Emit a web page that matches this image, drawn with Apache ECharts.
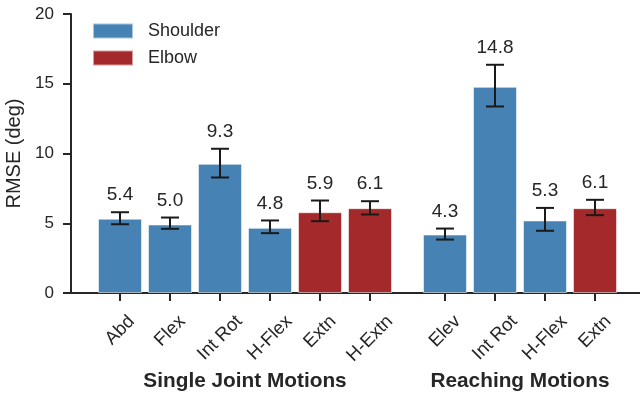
<!DOCTYPE html>
<html>
<head>
<meta charset="utf-8">
<script src="https://cdn.jsdelivr.net/npm/echarts@6/dist/echarts.min.js"></script>
<style>html,body{margin:0;padding:0;background:#fff;}#c{width:640px;height:394px;}</style>
</head>
<body>
<div id="c"></div>
<script>
// ---- data ----
const categories = ['Abd','Flex','Int Rot','H-Flex','Extn','H-Extn','Elev','Int Rot','H-Flex','Extn'];
const positions  = [0, 1, 2, 3, 4, 5, 6.5, 7.5, 8.5, 9.5];
const joints     = ['Shoulder','Shoulder','Shoulder','Shoulder','Elbow','Elbow','Shoulder','Shoulder','Shoulder','Elbow'];
const means      = [5.33, 4.91, 9.26, 4.67, 5.79, 6.08, 4.19, 14.78, 5.20, 6.08];
const errLow     = [4.93, 4.60, 8.28, 4.29, 5.15, 5.63, 3.83, 13.37, 4.46, 5.58];
const errHigh    = [5.79, 5.41, 10.34, 5.20, 6.63, 6.58, 4.62, 16.36, 6.10, 6.68];
const valueLabels= ['5.4','5.0','9.3','4.8','5.9','6.1','4.3','14.8','5.3','6.1'];
const groups     = [{name:'Single Joint Motions', from:0, to:5}, {name:'Reaching Motions', from:6.5, to:9.5}];
const yTicks     = [0, 5, 10, 15, 20];

const FONT = '"Liberation Sans", Arial, sans-serif';
const TXT = '#262626';
const colors = {Shoulder:'#4682b4', Elbow:'#a4292b'};
const CAT_FS = 18.5;

const measure = (() => {
  const ctx = document.createElement('canvas').getContext('2d');
  return (t, size) => { ctx.font = size + 'px "Liberation Sans", Arial'; return ctx.measureText(t).width; };
})();

function barData(j){
  return positions.map((p,i)=> joints[i]===j ? [p, means[i]] : null).filter(d=>d);
}

const chart = echarts.init(document.getElementById('c'));
const option = {
  animation:false,
  textStyle:{fontFamily:FONT, color:TXT},
  grid:{left:71, right:0, top:14, bottom:101, containLabel:false, outerBoundsMode:'none'},
  legend:{
    orient:'vertical', left:87, top:17, itemWidth:40, itemHeight:15, itemGap:9,
    icon:'rect', data:['Shoulder','Elbow'],
    textStyle:{fontSize:18, color:TXT, fontFamily:FONT, padding:[0,0,0,10]}
  },
  xAxis:{
    type:'value', min:-0.98, max:10.4,
    axisLine:{show:true, onZero:false, lineStyle:{color:TXT, width:2}},
    axisTick:{show:true, length:8, lineStyle:{color:TXT, width:2}, customValues:positions},
    axisLabel:{show:false},
    splitLine:{show:false}
  },
  yAxis:{
    type:'value', min:0, max:20, interval:5,
    name:'RMSE (deg)', nameLocation:'middle', nameGap:42,
    nameTextStyle:{fontSize:20, color:TXT, fontFamily:FONT},
    axisLine:{show:true, onZero:false, lineStyle:{color:TXT, width:2}},
    axisTick:{show:true, length:8, lineStyle:{color:TXT, width:2}},
    axisLabel:{fontSize:17, color:TXT, margin:17, fontFamily:FONT, customValues:yTicks},
    splitLine:{show:false}
  },
  series:[
    {name:'Shoulder', type:'bar', data:barData('Shoulder'), barWidth:44, barGap:'-100%',
     itemStyle:{color:colors.Shoulder, borderColor:'rgba(255,255,255,0.55)', borderWidth:1}},
    {name:'Elbow', type:'bar', data:barData('Elbow'), barWidth:44, barGap:'-100%',
     itemStyle:{color:colors.Elbow, borderColor:'rgba(255,255,255,0.55)', borderWidth:1}},
    {name:'err', type:'custom', z:5, clip:false,
     data: positions.map((p,i)=>[p, errLow[i], errHigh[i], i]),
     renderItem:(params, api)=>{
       const x = api.value(0), lo = api.value(1), hi = api.value(2), i = api.value(3);
       const a = api.coord([x, lo]), b = api.coord([x, hi]);
       const cap = 9;
       const st = {stroke:'#1a1a1a', lineWidth:2};
       return {type:'group', children:[
         {type:'line', shape:{x1:a[0], y1:a[1], x2:b[0], y2:b[1]}, style:st},
         {type:'line', shape:{x1:a[0]-cap, y1:a[1], x2:a[0]+cap, y2:a[1]}, style:st},
         {type:'line', shape:{x1:b[0]-cap, y1:b[1], x2:b[0]+cap, y2:b[1]}, style:st},
         {type:'text', style:{text:valueLabels[i], x:b[0], y:b[1]-17, align:'center', verticalAlign:'middle',
           fontSize:19, fill:TXT, fontFamily:FONT}}
       ]};
     }},
    {name:'cat', type:'custom', z:5, clip:false,
     data: positions.map((p,i)=>[p, 0, i]),
     renderItem:(params, api)=>{
       const x = api.value(0), i = api.value(2);
       const c = api.coord([x, 0]);
       const w = measure(categories[i], CAT_FS);
       const cy = c[1] + 21 + (w + 13) * 0.3536;
       return {type:'text', x:c[0], y:cy, rotation:Math.PI/4,
         style:{text:categories[i], x:0, y:0, align:'center', verticalAlign:'middle', fontSize:CAT_FS, fill:TXT, fontFamily:FONT}};
     }}
  ]
};
chart.setOption(option);

const gfx = groups.map(g=>{
  const p1 = chart.convertToPixel({xAxisIndex:0, yAxisIndex:0}, [g.from, 0]);
  const p2 = chart.convertToPixel({xAxisIndex:0, yAxisIndex:0}, [g.to, 0]);
  return {type:'text', x:(p1[0]+p2[0])/2, y:p1[1]+88,
    style:{text:g.name, align:'center', verticalAlign:'middle', fontSize:20.8, fontWeight:'bold', fill:TXT, fontFamily:FONT}};
});
chart.setOption({graphic:gfx});
</script>
</body>
</html>
